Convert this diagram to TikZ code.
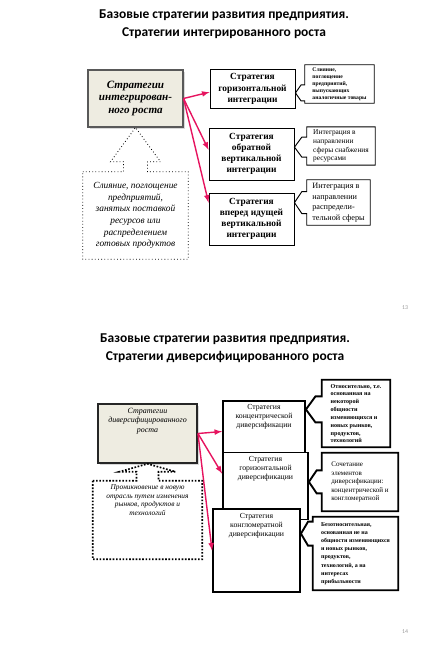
\documentclass[tikz,border=0pt]{standalone}
\usepackage{fontspec}
\setmainfont{Liberation Serif}
\newfontfamily\titlefont{Carlito}
\usetikzlibrary{calc,shadows}
\tikzset{>=latex}
\definecolor{Acol}{RGB}{230,20,95}
\definecolor{Fcol}{RGB}{238,236,225}
\tikzset{
  headline/.style={align=center, font=\titlefont\bfseries\fontsize{11.5}{15.3}\selectfont},
  mainboxA/.style={draw=black!65, line width=0.9pt, fill=Fcol, align=center,
    drop shadow={opacity=0.3, shadow xshift=1.5pt, shadow yshift=-1.5pt},
    font=\bfseries\itshape\fontsize{9.5}{11}\selectfont},
  mainboxB/.style={draw=black!85, line width=1.6pt, fill=Fcol, align=center,
    drop shadow={opacity=0.3, shadow xshift=1.5pt, shadow yshift=-1.5pt},
    font=\itshape\fontsize{6.8}{8}\selectfont},
  stratA/.style={draw, line width=0.8pt, fill=white, align=center,
    drop shadow={opacity=0.25, shadow xshift=1pt, shadow yshift=-1pt},
    font=\bfseries\fontsize{8}{9.5}\selectfont},
  stratB/.style={draw, line width=1.6pt, fill=white, align=center,
    font=\fontsize{6.6}{7.6}\selectfont},
  textup/.style={text depth=#1},
  note/.style={align=left, inner sep=2pt},
  dotboxA/.style={align=center, font=\itshape\fontsize{8}{10}\selectfont},
  dotboxB/.style={align=center, font=\itshape\fontsize{6.3}{7.3}\selectfont},
  pgnum/.style={text=black!40, font=\titlefont\fontsize{5}{6}\selectfont},
  red arrow/.style={Acol, line width=1.2pt, -latex},
}
% outline of a note box with a notch pointing left to (#3)
\newcommand{\notchline}[4][]{%
  \path (#3) ++(0,#4) coordinate (nlo) (#3) ++(0,-#4) coordinate (nhi);
  \draw[#1] (#2.north west) -- (#2.north east) -- (#2.south east) -- (#2.south west)
    -- (#2.west |- nlo) -- ($(#2.west |- nlo)!0.4!(#3 |- nlo)$) -- (#3)
    -- ($(#2.west |- nhi)!0.4!(#3 |- nhi)$) -- (#2.west |- nhi) -- cycle;
}
% outline of a box with an arrow going up to (#3)
\newcommand{\uparrowline}[6][]{%
  \coordinate (ubase) at (#3 |- #2.north);
  \draw[#1] (#2.north west) -- ($(ubase)+(-#4,0)$) -- ++(0,-#6) -- ++({#4-#5},0) -- (#3)
    -- ($(ubase)+(#5,-#6)$) -- ++({#4-#5},0) -- ($(ubase)+(#4,0)$)
    -- (#2.north east) -- (#2.south east) -- (#2.south west) -- cycle;
}

\begin{document}
\begin{tikzpicture}[x=0.03cm, y=-0.03cm]
    \useasboundingbox (0,0) rectangle (432,648);

    % slide 13
    \node[headline] (ttlA) at (224,24) {Базовые стратегии развития предприятия.\\Стратегии интегрированного роста};
    \node[mainboxA, minimum width=2.85cm, minimum height=1.71cm] (integ) at (135.5,98.5) {Стратегии\\интегрирован-\\ного роста};
    \node[stratA, minimum width=2.55cm, minimum height=1.14cm] (hor) at (252.5,89) {Стратегия\\горизонтальной\\интеграции};
    \node[stratA, minimum width=2.55cm, minimum height=1.56cm] (obr) at (251.5,154) {Стратегия\\обратной\\вертикальной\\интеграции};
    \node[stratA, minimum width=2.55cm, minimum height=1.56cm] (vpr) at (251.5,219) {Стратегия\\вперед идущей\\вертикальной\\интеграции};
    \node[note, font=\bfseries\fontsize{4.8}{6}\selectfont, minimum width=2.07cm, minimum height=1.14cm] (slA) at (339.5,84) {Слияние,\\поглощение\\предприятий,\\выпускающих\\аналогичные товары};
    \node[note, font=\fontsize{6.3}{7.6}\selectfont, minimum width=2.04cm, minimum height=1.08cm] (snA) at (341,146) {Интеграция в\\направлении\\сферы снабжения\\ресурсами};
    \node[note, font=\fontsize{7}{9}\selectfont, minimum width=1.89cm, minimum height=1.35cm] (raA) at (338.5,202.5) {Интеграция в\\направлении\\распредели-\\тельной сферы};
    \node[dotboxA, minimum width=3.15cm, minimum height=2.61cm] (slB) at (135.5,215.5) {Слияние, поглощение\\предприятий,\\занятых поставкой\\ресурсов или\\распределением\\готовых продуктов};
    \node[pgnum] (pgA) at (405,308) {13};

    \coordinate (aH) at ($(hor.north west)!0.58!(hor.south west)$);
    \coordinate (aO) at ($(obr.north west)!0.42!(obr.south west)$);
    \coordinate (aV) at ($(vpr.north west)!0.19!(vpr.south west)$);
    \draw[red arrow] (integ.east) -- (aH);
    \draw[red arrow] (integ.east) -- (aO);
    \draw[red arrow] (integ.east) -- (aV);

    \coordinate (tH) at ($(hor.north east)!0.6!(hor.south east)$);
    \coordinate (tO) at ($(obr.north east)!0.37!(obr.south east)$);
    \coordinate (tV) at ($(vpr.north east)!0.19!(vpr.south east)$);
    \notchline[line width=0.8pt]{slA}{tH}{8}
    \notchline[line width=0.8pt]{snA}{tO}{10}
    \notchline[line width=0.8pt]{raA}{tV}{11}
    \uparrowline[line width=0.7pt, dotted]{slB}{integ.south}{12}{25}{10}

    % slide 14
    \node[headline] (ttlB) at (225,348.5) {Базовые стратегии развития предприятия.\\Стратегии диверсифицированного роста};
    \node[mainboxB, textup=23pt, minimum width=2.97cm, minimum height=1.29cm] (divers) at (147.5,433.5) {Стратегии\\диверсифицированного\\роста};
    \node[stratB, textup=26pt, minimum width=2.46cm, minimum height=1.41cm] (kon) at (264,431.5) {Стратегия\\концентрической\\диверсификации};
    \node[stratB, textup=31pt, minimum width=2.55cm, minimum height=1.5cm] (gor) at (265.5,486) {Стратегия\\горизонтальной\\диверсификации};
    \node[stratB, textup=44pt, minimum width=2.61cm, minimum height=1.95cm] (kgl) at (256.5,550.5) {Стратегия\\конгломератной\\диверсификации};
    \node[note, font=\bfseries\fontsize{5.2}{6.7}\selectfont, minimum width=2.04cm, minimum height=2.01cm] (otn) at (356,413.5) {Относительно, т.е.\\основанная на\\некоторой\\общности\\изменяющихся и\\новых рынков,\\продуктов,\\технологий};
    \node[note, font=\fontsize{6}{7.2}\selectfont, minimum width=2.28cm, minimum height=1.74cm] (soch) at (360,482) {Сочетание\\элементов\\диверсификации:\\концентрической и\\конгломератной};
    \node[note, font=\bfseries\fontsize{5.1}{7}\selectfont, minimum width=2.55cm, minimum height=2.19cm] (bezo) at (355.5,553.5) {Безотносительная,\\основанная не на\\общности изменяющихся\\и новых рынков,\\продуктов,\\технологий, а на\\интересах\\прибыльности};
    \node[dotboxB, textup=34pt, minimum width=3.27cm, minimum height=1.68cm] (pron) at (147.5,520) {Проникновение в новую\\отрасль путем изменения\\рынков, продуктов и\\технологий};
    \node[pgnum] (pgB) at (405,632) {14};

    \coordinate (aK) at (kon.west);
    \coordinate (aG) at ($(gor.north west)!0.32!(gor.south west)$);
    \coordinate (aL) at (kgl.west);
    \draw[red arrow] (divers.east) -- (aK);
    \draw[red arrow] (divers.east) -- (aG);
    \draw[red arrow] (divers.east) -- (aL);

    \coordinate (tK) at ($(kon.north east)!0.15!(kon.south east)$);
    \coordinate (tG) at ($(gor.north east)!0.44!(gor.south east)$);
    \coordinate (tL) at ($(kgl.north east)!0.3!(kgl.south east)$);
    \notchline[line width=1.6pt]{otn}{tK}{13}
    \notchline[line width=1.6pt]{soch}{tG}{11.5}
    \notchline[line width=1.6pt]{bezo}{tL}{12}
    \uparrowline[line width=1.4pt, dash pattern=on 1.4pt off 1.4pt]{pron}{divers.south}{11}{28}{9}
\end{tikzpicture}
\end{document}
